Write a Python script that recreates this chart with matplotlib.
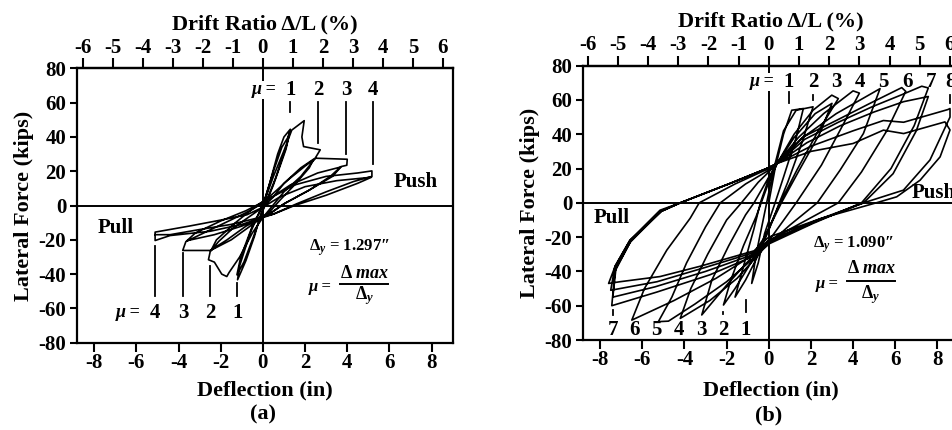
import numpy as np
import matplotlib
matplotlib.use("Agg")
import matplotlib.pyplot as plt

plt.rcParams["font.family"] = ["Liberation Serif", "DejaVu Serif"]
plt.rcParams["font.weight"] = "bold"
plt.rcParams["mathtext.fontset"] = "custom"
plt.rcParams["mathtext.rm"] = "Liberation Serif:bold"
plt.rcParams["mathtext.it"] = "Liberation Serif:italic:bold"
plt.rcParams["mathtext.bf"] = "Liberation Serif:bold"

# ---- specimen (a): deflection (in) / lateral force (kips) path ----
a_defl = [0, 0.3, 0.7, 1.0, 1.3,
          1.15, 0.6, 0.15, -0.1, -0.4, -0.8, -1.2,
          -1.1, -0.6, -0.1, 0.1, 0.5, 0.9, 1.2, 1.25,
          1.1, 0.5, 0, -0.5, -0.9, -1.23,
          -1.05, -0.5, 0, 0.5, 1.0, 1.37, 1.96, 1.85, 1.93, 2.72,
          2.45, 1.8, 1.0, 0.4, 0, -0.5, -1.1, -1.6, -1.71, -1.95, -2.3, -2.58, -2.5,
          -2.1, -1.4, -0.7, 0, 0.5, 1.0, 1.8, 2.4,
          2.2, 1.5, 0.8, 0.3, -0.6, -1.5, -2.45,
          -2.2, -1.3, -0.5, 0.3, 1.2, 2.0, 2.5, 4.0, 3.98, 3.7,
          3.2, 2.2, 1.0, 0.3, -0.8, -1.7, -2.5, -3.8, -3.65,
          -2.8, -1.6, -0.6, 0.2, 1.3, 2.6, 3.7,
          3.3, 2.2, 1.0, 0.3, -1.0, -2.3, -3.6,
          -3.2, -2.0, -0.8, 0.3, 1.5, 3.0, 4.5, 5.17, 5.17,
          4.3, 3.0, 1.6, 0.5, -1.0, -2.5, -4.4, -5.11, -5.11,
          -3.5, -2.0, -0.76, 0, 0.8, 2.0, 3.5, 5.15,
          4.5, 3.0, 1.5, 0.5, -1.5, -3.0, -4.4, -5.1]
a_force = [0, 12, 30, 40, 44.5,
           36, 16, 2, -5, -18, -32, -43.3,
           -35, -16, -2, 4, 20, 34, 40, 42.5,
           33, 12, -3, -20, -33, -40.4,
           -30, -12, 0, 17, 32, 44, 49.5, 40, 34.4, 32.5,
           27, 17, 8, -1, -7, -16, -30, -39, -41.4, -40, -33, -31.6, -27,
           -21, -13, -7, -1, 5, 13, 22, 27,
           22, 12, 3, -4, -12, -20, -26,
           -20, -10, -2, 5, 15, 23, 27.6, 27, 23.5, 22.7,
           17, 9, 1, -5, -12, -20, -26.2, -26.2, -21,
           -16, -9, -3, 3, 12, 19, 22.5,
           17, 9, 1, -5, -12, -17, -20.5,
           -16, -9, -3, 4, 12, 17, 19, 20.2, 17,
           14, 8, 1, -5, -11, -15, -17.5, -20.4, -15.5,
           -12, -8.5, -5.4, -1, 5, 11, 14.5, 16.5,
           13, 6, 0, -5, -11, -14, -17, -17]

# ---- specimen (b) ----
b_defl = [0, 0.3, 0.7, 1.09, 1.64,
          1.3, 0.7, 0.3, -0.2, -0.5, -0.81,
          -0.6, -0.3, -0.1, 0.2, 0.7, 1.3, 2.1,
          1.6, 0.9, 0.5, 0, -0.6, -1.1, -1.6,
          -1.2, -0.7, -0.4, 0, 0.4, 1.2, 2.1, 2.99, 3.3,
          2.28, 1.33, 0.54, -0.25, -0.9, -1.6, -2.15,
          -1.8, -1.2, -0.6, 0, 0.4, 1.2, 2.2, 3.0,
          2.4, 1.4, 0.6, -0.2, -0.9, -2.0, -3.18,
          -2.7, -1.9, -1.1, -0.7, 0, 0.4, 1.4, 2.6, 4.0, 4.3,
          3.5, 2.5, 1.3, 0.3, -0.4, -1.5, -2.8, -4.2,
          -3.7, -2.9, -2.0, -1.3, -0.5, 0, 0.4, 1.6, 3.2, 5.28,
          4.49, 3.38, 2.3, 1.0, 0, -0.6, -2.0, -3.5, -4.76, -5.24,
          -4.6, -3.9, -3.0, -2.3, -1.1, 0, 0.4, 1.64, 3.2, 4.8, 6.31, 6.5,
          5.6, 4.4, 3.3, 1.8, 0, -0.7, -2.5, -4.5, -6.5,
          -5.9, -4.84, -3.73, -3.3, -1.6, 0, 0.4, 1.7, 3.3, 4.9, 6.3, 7.26, 7.57,
          6.9, 5.8, 4.4, 2.1, 0, -0.7, -2.8, -5.3, -7.45,
          -7.3, -6.58, -5.16, -4.2, -1.84, -0.1, 0.4, 1.8, 3.4, 5.0, 6.4, 7.57,
          7.0, 5.9, 4.5, 2.2, 0, -0.7, -3.0, -5.4, -7.4,
          -7.25, -6.55, -5.1, -4.2, -1.84, -0.1, 0.4, 2.0, 4.0, 5.44, 6.4, 8.5, 8.6,
          8.6, 7.65, 6.39, 4.5, 2.3, 0, -0.7, -3.1, -5.3, -7.5,
          -7.3, -6.6, -5.1, -4.2, -1.84, -0.1, 0.4, 2.0, 4.0, 5.44, 6.4, 8.36, 8.6,
          8.13, 7.18, 6.07, 5.1, 2.5, 0, -0.7, -3.26, -5.16, -7.05, -7.6,
          -7.3, -6.58, -5.16, -4.2]
b_force = [0, 20, 40, 54, 55,
           38, 15, 0, -18, -35, -47,
           -30, -12, 0, 18, 42, 54, 56,
           36, 12, 0, -16, -33, -45, -55,
           -37, -15, 0, 14, 23, 40, 54, 62.8, 60.8,
           40.4, 19, 0, -21.7, -36, -50, -59.6,
           -45, -25, -8, 12, 23, 38, 52, 58,
           40, 18, 0, -20, -33, -48, -65.4,
           -45, -25, -7, 0, 15, 23, 38, 52, 65.3, 64,
           45, 22, 0, -17, -29, -44, -57, -67.4,
           -50, -30, -10, 0, 12, 18, 23, 38, 52, 66.6,
           40.4, 19, 0, -13, -24, -31, -46, -59, -69, -69.3,
           -55, -35, -14, 0, 11, 19, 23, 38.5, 48, 58, 67.2, 65,
           42, 18, 0, -10, -22, -30, -44, -57, -68.4,
           -50, -27.6, -9, 0, 11, 20, 23, 37, 47, 56, 63, 68, 67,
           45, 20, 0, -12, -24, -31, -42, -52, -60,
           -40, -23, -5, 0, 11.3, 20, 23, 35, 45, 53, 59, 62,
           42, 17, 0, -11, -23, -30, -40, -49, -55,
           -38, -22.5, -5, 0, 11.3, 20, 23, 33, 42, 48, 47, 54.4, 55,
           50, 25, 7.4, 0, -10, -22, -29, -38, -46, -51,
           -37, -22, -5, 0, 11.3, 20, 23, 30, 34.6, 42.4, 40.4, 47.2, 42.5,
           26.8, 13.2, 3.5, 0, -9, -20, -28, -37, -43, -46, -47,
           -37.3, -21.7, -4.3, 0]

x_ticks = [-8, -6, -4, -2, 0, 2, 4, 6, 8]
y_ticks = [-80, -60, -40, -20, 0, 20, 40, 60, 80]
drift_ticks = [-6, -5, -4, -3, -2, -1, 0, 1, 2, 3, 4, 5, 6]
L_a = 142.3
L_b = 143.3

fig = plt.figure(figsize=(9.53, 4.30), dpi=100)
ax_a = fig.add_axes([0.0811, 0.2030, 0.3939, 0.638])
ax_b = fig.add_axes([0.6121, 0.2093, 0.3936, 0.638])

TICK_FS = 15
LAB_FS = 16


def setup(ax, L, tag, tag_y, xpad):
    ax.set_xlim(-8.8, 9.0)
    ax.set_ylim(-80, 80)
    ax.set_xticks(x_ticks)
    ax.set_yticks(y_ticks)
    ax.set_xticklabels([str(t) for t in x_ticks])
    ax.set_yticklabels([str(t) for t in y_ticks])
    for s in ax.spines.values():
        s.set_linewidth(1.6)
    ax.tick_params(axis="x", direction="out", length=6.5, width=1.5,
                   labelsize=TICK_FS, pad=1)
    ax.tick_params(axis="y", direction="out", length=5, width=1.5,
                   labelsize=TICK_FS, pad=3)
    ax.axhline(0, color="black", lw=1.4, zorder=1)
    ax.axvline(0, color="black", lw=1.4, zorder=1)
    ax.set_xlabel("Deflection (in)", fontsize=LAB_FS, fontweight="bold", labelpad=xpad)
    ax.set_ylabel("Lateral Force (kips)", fontsize=LAB_FS, fontweight="bold",
                  labelpad=3)
    ax.text(0.0, tag_y, tag, transform=ax.get_xaxis_transform(), fontsize=LAB_FS,
            ha="center", va="center", clip_on=False)
    sec = ax.secondary_xaxis("top", functions=(lambda d: d / L * 100,
                                               lambda r: r * L / 100))
    sec.set_xticks(drift_ticks)
    sec.set_xticklabels([str(t) for t in drift_ticks])
    sec.tick_params(direction="out", length=7.5, width=1.5, labelsize=TICK_FS, pad=0)
    sec.spines["top"].set_linewidth(1.6)
    sec.set_xlabel("Drift Ratio \u0394/L (%)", fontsize=LAB_FS, fontweight="bold",
                   labelpad=6)


setup(ax_a, L_a, "(a)", -0.26, 5)
setup(ax_b, L_b, "(b)", -0.275, 7)

ax_a.plot(a_defl, a_force, color="black", lw=1.2, zorder=3)
ax_b.plot(b_defl, b_force, color="black", lw=1.2, zorder=3, clip_on=False)

white = dict(facecolor="white", edgecolor="none", pad=0.5)
mu_kw = dict(fontsize=13, fontweight="bold", fontstyle="italic", ha="center", va="center")
num_kw = dict(fontsize=15, fontweight="bold", ha="center", va="center")

# (a) annotations
ax_a.text(0.05, 67.5, "\u03bc =", bbox=white, zorder=5, **mu_kw)
for x, lab, y0 in [(1.3, "1", 54.5), (2.63, "2", 36.5), (3.96, "3", 30), (5.2, "4", 24)]:
    ax_a.text(x, 67.5, lab, **num_kw)
    ax_a.plot([x, x], [60.6, y0], color="black", lw=1.3)
ax_a.text(-6.4, -62.6, "\u03bc =", **mu_kw)
for x, lab, y0 in [(-5.1, "4", -23.5), (-3.78, "3", -27.6), (-2.5, "2", -35), (-1.22, "1", -45)]:
    ax_a.text(x, -62.6, lab, **num_kw)
    ax_a.plot([x, x], [y0, -52.6], color="black", lw=1.3)
ax_a.text(6.2, 14, "Push", fontsize=15, fontweight="bold", ha="left", va="center")
ax_a.text(-7.0, -13.2, "Pull", fontsize=15, fontweight="bold", ha="center", va="center")
ax_a.text(4.1, -24.7, "$\\mathit{\\Delta_y}$ = 1.297\u2033",
          fontsize=12, ha="center", va="center")
ax_a.text(2.72, -47.5, "\u03bc =", fontsize=12, fontstyle="italic", ha="center", va="center")
ax_a.text(4.85, -39.4, r"$\mathit{\Delta}$ $\mathit{max}$", fontsize=13, ha="center", va="center")
ax_a.plot([3.67, 5.95], [-45.6, -45.6], color="black", lw=1.4)
ax_a.text(4.8, -52.5, r"$\mathit{\Delta_y}$", fontsize=13, ha="center", va="center")

# (b) annotations
ax_b.text(-0.3, 70.5, "\u03bc =", bbox=white, zorder=5, **mu_kw)
for x, lab in zip([0.96, 2.09, 3.19, 4.33, 5.44, 6.59, 7.68, 8.6],
                  ["1", "2", "3", "4", "5", "6", "7", "8"]):
    ax_b.text(x, 70.5, lab, clip_on=False, **num_kw)
ax_b.plot([0.96, 0.96], [64.7, 58], color="black", lw=1.3)
ax_b.plot([2.09, 2.09], [63, 60], color="black", lw=1.3)
ax_b.plot([8.6, 8.6], [63, 58], color="black", lw=1.3, clip_on=False)
for x, lab in zip([-7.4, -6.39, -5.35, -4.26, -3.21, -2.15, -1.09],
                  ["7", "6", "5", "4", "3", "2", "1"]):
    ax_b.text(x, -74.2, lab, **num_kw)
ax_b.plot([-7.4, -7.4], [-62.7, -65.5], color="black", lw=1.3)
ax_b.plot([-1.09, -1.09], [-56.7, -63.5], color="black", lw=1.3)
ax_b.plot([-2.15, -2.15], [-63.5, -65], color="black", lw=1.3)
ax_b.text(6.78, 5.5, "Push", fontsize=15, fontweight="bold", ha="left", va="center",
          clip_on=False)
ax_b.text(-7.45, -9.1, "Pull", fontsize=15, fontweight="bold", ha="center", va="center")
ax_b.text(4.0, -24.7, "$\\mathit{\\Delta_y}$ = 1.090\u2033", fontsize=12,
          ha="center", va="center")
ax_b.text(2.75, -47.5, "\u03bc =", fontsize=12, fontstyle="italic", ha="center", va="center")
ax_b.text(4.9, -38.2, r"$\mathit{\Delta}$ $\mathit{max}$", fontsize=13, ha="center", va="center")
ax_b.plot([3.7, 6.0], [-45.6, -45.6], color="black", lw=1.4)
ax_b.text(4.85, -53.3, r"$\mathit{\Delta_y}$", fontsize=13, ha="center", va="center")

fig.savefig("out.png", dpi=100)
